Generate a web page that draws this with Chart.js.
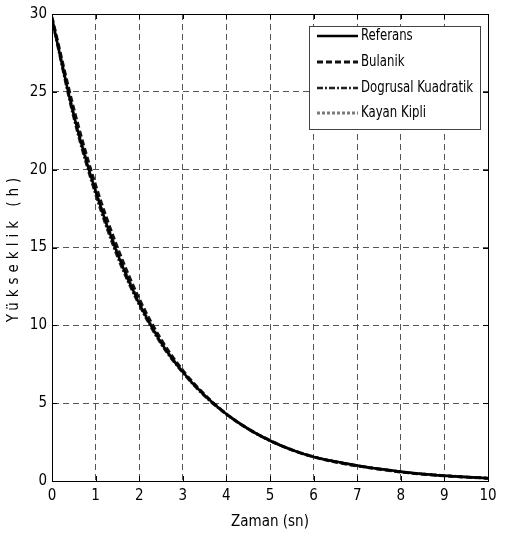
<!DOCTYPE html>
<html>
<head>
<meta charset="utf-8">
<script src="https://cdn.jsdelivr.net/npm/chart.js@4/dist/chart.umd.min.js"></script>
<style>
  html, body { margin: 0; padding: 0; background: #fff; }
  #wrap { width: 511px; height: 535px; }
</style>
</head>
<body>
<div id="wrap"><canvas id="c" width="511" height="535"></canvas></div>
<script>
// Time samples (s) and height responses for each controller
const times    = [0, 0.5, 1, 1.5, 2, 2.5, 3, 3.5, 4, 4.5, 5, 5.5, 6, 6.5, 7, 7.5, 8, 8.5, 9, 9.5, 10];
const referans = [29.7, 23.5, 18.6, 14.6, 11.4, 8.9, 7.0, 5.5, 4.3, 3.35, 2.6, 2.0, 1.55, 1.25, 1.0, 0.78, 0.6, 0.45, 0.34, 0.25, 0.18];
const bulanik  = [29.8, 23.9, 19.0, 15.0, 11.7, 9.1, 7.1, 5.55, 4.3, 3.35, 2.6, 2.0, 1.55, 1.22, 0.97, 0.76, 0.58, 0.44, 0.33, 0.25, 0.18];
const dogrusal = [29.6, 23.3, 18.4, 14.4, 11.3, 8.8, 6.95, 5.45, 4.28, 3.33, 2.58, 2.0, 1.55, 1.24, 0.99, 0.77, 0.59, 0.45, 0.34, 0.25, 0.18];
const kayan    = [29.7, 23.6, 18.7, 14.7, 11.5, 8.95, 7.0, 5.5, 4.3, 3.35, 2.6, 2.0, 1.55, 1.24, 0.98, 0.77, 0.6, 0.45, 0.34, 0.25, 0.18];

const seriesNames = ['Referans', 'Bulanik', 'Dogrusal Kuadratik', 'Kayan Kipli'];
const xTicks = [0, 1, 2, 3, 4, 5, 6, 7, 8, 9, 10];
const yTicks = [0, 5, 10, 15, 20, 25, 30];
const xTitle = 'Zaman (sn)';
const yTitle = 'Yükseklik (h)';

const FONT = "'DejaVu Sans Condensed', 'Liberation Sans Narrow', 'Arial Narrow', 'Liberation Sans', sans-serif";

const toPoints = (vals) => times.map((t, i) => ({ x: t, y: vals[i] }));

const styles = [
  { color: '#000000', width: 2.5, dash: [] },
  { color: '#111111', width: 3,   dash: [6, 3] },
  { color: '#222222', width: 2.5, dash: [6, 2, 2, 2] },
  { color: '#7a7a7a', width: 3,   dash: [3, 2] }
];

const datasets = [referans, bulanik, dogrusal, kayan].map((vals, i) => ({
  label: seriesNames[i],
  data: toPoints(vals),
  borderColor: styles[i].color,
  borderWidth: styles[i].width,
  borderDash: styles[i].dash,
  pointRadius: 0,
  fill: false,
  cubicInterpolationMode: 'monotone'
}));

// Box, inward ticks, rotated y title and boxed legend
const framePlugin = {
  id: 'frame',
  afterDraw(chart) {
    const { ctx, chartArea: a, scales } = chart;
    ctx.save();
    ctx.strokeStyle = '#000';
    ctx.lineWidth = 1;
    ctx.setLineDash([]);
    ctx.strokeRect(a.left + 0.5, a.top + 0.5, a.right - a.left, a.bottom - a.top);

    // inward tick marks
    const tl = 5;
    ctx.beginPath();
    xTicks.forEach(v => {
      const px = Math.round(scales.x.getPixelForValue(v)) + 0.5;
      ctx.moveTo(px, a.bottom); ctx.lineTo(px, a.bottom - tl);
      ctx.moveTo(px, a.top); ctx.lineTo(px, a.top + tl);
    });
    yTicks.forEach(v => {
      const py = Math.round(scales.y.getPixelForValue(v)) + 0.5;
      ctx.moveTo(a.left, py); ctx.lineTo(a.left + tl, py);
      ctx.moveTo(a.right, py); ctx.lineTo(a.right - tl, py);
    });
    ctx.stroke();

    // y-axis title with spaced letters
    ctx.save();
    ctx.translate(14, (a.top + a.bottom) / 2);
    ctx.rotate(-Math.PI / 2);
    ctx.font = '15px ' + FONT;
    ctx.fillStyle = '#000';
    ctx.textAlign = 'center';
    ctx.textBaseline = 'middle';
    try { ctx.letterSpacing = '5px'; } catch (e) {}
    ctx.fillText(yTitle, 0, 0);
    ctx.restore();

    // legend
    const bx = 309, by = 26, bw = 171, bh = 103;
    ctx.fillStyle = '#fff';
    ctx.fillRect(bx, by, bw, bh);
    ctx.strokeStyle = '#444';
    ctx.lineWidth = 1;
    ctx.strokeRect(bx + 0.5, by + 0.5, bw, bh);
    const rows = [36, 62, 88, 113];
    chart.data.datasets.forEach((ds, i) => {
      const y = rows[i];
      ctx.beginPath();
      ctx.strokeStyle = ds.borderColor;
      ctx.lineWidth = ds.borderWidth;
      ctx.setLineDash(ds.borderDash || []);
      ctx.moveTo(317, y);
      ctx.lineTo(358, y);
      ctx.stroke();
      ctx.setLineDash([]);
      // narrow label text
      ctx.save();
      ctx.translate(361, y);
      ctx.scale(0.87, 1);
      ctx.font = '15px ' + FONT;
      ctx.textAlign = 'left';
      ctx.textBaseline = 'middle';
      ctx.fillStyle = '#000';
      ctx.fillText(ds.label, 0, 0);
      ctx.restore();
    });
    ctx.restore();
  }
};

new Chart(document.getElementById('c'), {
  type: 'line',
  data: { datasets },
  options: {
    responsive: false,
    animation: false,
    devicePixelRatio: 1,
    layout: { padding: { top: 10, right: 23, left: 0, bottom: 0 } },
    plugins: { legend: { display: false }, tooltip: { enabled: false } },
    scales: {
      x: {
        type: 'linear',
        min: 0, max: 10,
        afterFit(s) { s.height = 54; },
        afterBuildTicks(s) { s.ticks = xTicks.map(v => ({ value: v })); },
        grid: { color: '#555', lineWidth: 1, drawTicks: false, tickLength: 0 },
        border: { display: true, color: '#000', dash: [6, 4] },
        ticks: { color: '#000', font: { family: FONT, size: 15 }, padding: 6, maxRotation: 0 },
        title: { display: true, text: xTitle, color: '#000', font: { family: FONT, size: 15 }, padding: { top: 2 } }
      },
      y: {
        type: 'linear',
        min: 0, max: 30,
        afterFit(s) { s.width = 52; },
        afterBuildTicks(s) { s.ticks = yTicks.map(v => ({ value: v })); },
        grid: { color: '#555', lineWidth: 1, drawTicks: false, tickLength: 0 },
        border: { display: true, color: '#000', dash: [6, 4] },
        ticks: { color: '#000', font: { family: FONT, size: 15 }, padding: 5 },
        title: { display: false }
      }
    }
  },
  plugins: [framePlugin]
});
</script>
</body>
</html>
